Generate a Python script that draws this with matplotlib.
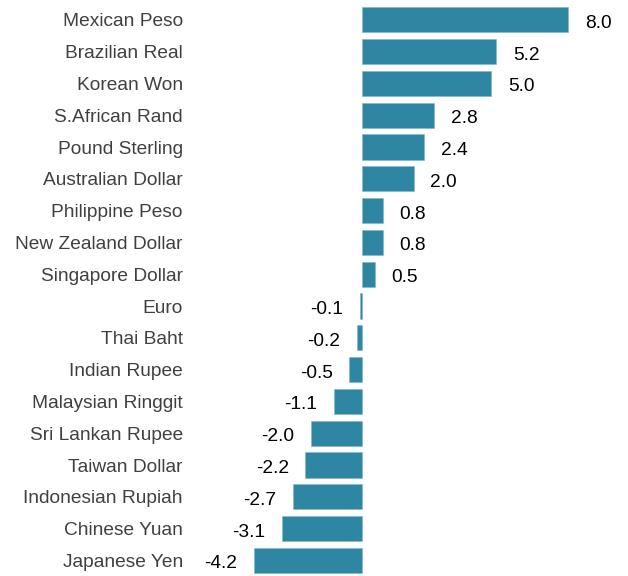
import matplotlib
matplotlib.use("Agg")
import matplotlib.pyplot as plt

plt.rcParams['font.family'] = ['Liberation Sans', 'DejaVu Sans']

currencies = ["Mexican Peso", "Brazilian Real", "Korean Won", "S.African Rand",
              "Pound Sterling", "Australian Dollar", "Philippine Peso",
              "New Zealand Dollar", "Singapore Dollar", "Euro", "Thai Baht",
              "Indian Rupee", "Malaysian Ringgit", "Sri Lankan Rupee",
              "Taiwan Dollar", "Indonesian Rupiah", "Chinese Yuan", "Japanese Yen"]
changes = [8.0, 5.2, 5.0, 2.8, 2.4, 2.0, 0.8, 0.8, 0.5,
           -0.1, -0.2, -0.5, -1.1, -2.0, -2.2, -2.7, -3.1, -4.2]

bar_color = "#2E86A3"
fsize = 13.8

fig = plt.figure(figsize=(6.28, 5.76), dpi=100)
ax = fig.add_axes([0.30, 0.0, 0.70, 1.0])

pos = list(range(len(currencies)))
ax.barh(pos, changes, height=0.79, color=bar_color, edgecolor="#7fb6c9", linewidth=0.4)

for y, v in zip(pos, changes):
    if v >= 0:
        ax.annotate(f"{v:.1f}", (v, y), xytext=(12, -1), textcoords="offset points",
                    ha="left", va="center_baseline", fontsize=fsize, color="black")
    else:
        ax.annotate(f"{v:.1f}", (v, y), xytext=(-12, -1), textcoords="offset points",
                    ha="right", va="center_baseline", fontsize=fsize, color="black")

ax.set_xlim(-6.74, 10.31)
ax.set_ylim(17.49, -0.623)
ax.set_yticks(pos)
ax.set_yticklabels(currencies, fontsize=fsize, color="#404040")
ax.tick_params(axis="y", length=0, pad=4)
ax.set_xticks([])
for s in ax.spines.values():
    s.set_visible(False)

fig.savefig("out.png", dpi=100)
